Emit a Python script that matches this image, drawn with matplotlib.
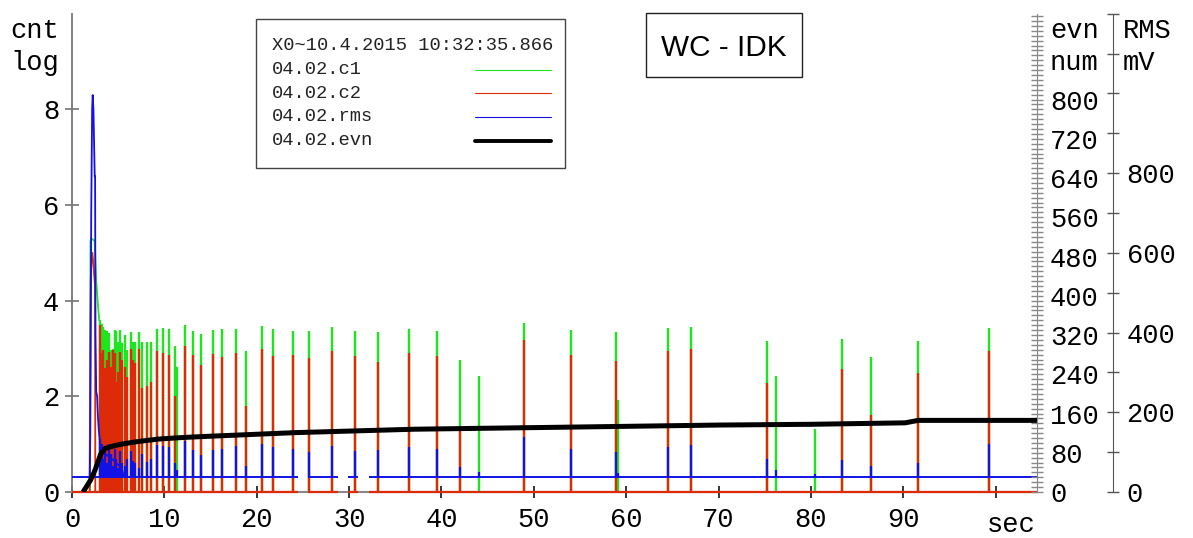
import matplotlib
matplotlib.use("Agg")
import matplotlib.pyplot as plt
from matplotlib.patches import Rectangle
from matplotlib.lines import Line2D
from matplotlib.ticker import FixedLocator, MultipleLocator

# ---- data -------------------------------------------------------------
legend_title = "X0~10.4.2015 10:32:35.866"
series_names = ["04.02.c1", "04.02.c2", "04.02.rms", "04.02.evn"]
chart_title = "WC - IDK"

# pulse times (sec) and heights per channel (c1/c2 in log cnt, rms in mV)
spike_t = [3.03, 3.20, 3.32, 3.54, 3.79, 4.00, 4.18, 4.44, 4.62, 4.80,
           4.98, 5.23, 5.45, 5.70, 5.95, 6.35, 6.60, 6.85, 7.25, 7.61,
           8.08, 8.52, 9.20, 9.85, 10.50, 11.18, 11.40, 12.20, 13.13, 13.96,
           15.23, 16.27, 17.78, 18.80, 20.60, 21.79, 23.95, 25.62, 28.10,
           30.66, 33.08, 36.50, 39.47, 41.99, 44.08, 48.92, 53.97, 58.84,
           59.06, 64.47, 66.96, 75.25, 76.23, 80.41, 83.33, 86.54, 91.59,
           99.32]
c1_peak = [3.59, 3.52, 3.45, 3.38, 3.37, 3.32, 2.97, 3.00, 3.38, 3.37,
           3.14, 3.38, 3.12, 3.28, 2.97, 3.34, 3.14, 3.14, 3.34, 3.14,
           3.13, 3.13, 3.40, 3.43, 3.41, 3.05, 2.61, 3.49, 3.36, 3.30,
           3.38, 3.40, 3.41, 2.95, 3.47, 3.41, 3.36, 3.36, 3.44,
           3.36, 3.35, 3.41, 3.36, 2.77, 2.42, 3.54, 3.38, 3.34,
           1.92, 3.42, 3.44, 3.15, 2.42, 1.32, 3.20, 2.82, 3.15,
           3.43]
c2_peak = [3.49, 2.90, 2.97, 2.60, 2.76, 2.93, 2.62, 2.97, 2.90, 2.30,
           2.50, 2.93, 2.76, 2.62, 2.40, 3.00, 2.76, 2.69, 3.00, 2.17,
           2.21, 2.31, 2.95, 2.90, 2.86, 2.01, 0.00, 3.05, 2.86, 2.65,
           2.89, 2.83, 2.91, 1.79, 2.99, 2.85, 2.86, 2.81, 2.95,
           2.84, 2.72, 2.91, 2.84, 1.30, 0.00, 3.17, 2.86, 2.74,
           0.00, 2.95, 2.99, 2.27, 0.00, 0.00, 2.58, 1.62, 2.49,
           2.95]
rms_peak = [132, 120, 84, 108, 72, 120, 96, 66, 108, 84,
            60, 102, 72, 66, 84, 102, 78, 72, 60, 96,
            76, 82, 118, 115, 112, 74, 56, 128, 106, 92,
            106, 108, 115, 66, 120, 112, 108, 100, 115,
            103, 106, 112, 109, 62, 49, 139, 108, 101,
            48, 114, 118, 82, 54, 46, 80, 65, 73,
            120]

# start-up burst
c1_burst_t = [1.95, 2.00, 2.10, 2.45, 2.52, 2.62, 2.74, 2.85, 2.95, 3.05, 3.05]
c1_burst = [0.0, 5.25, 5.30, 5.25, 4.90, 4.40, 4.10, 3.80, 3.60, 3.55, 0.0]
c2_burst_t = [1.90, 2.02, 2.12, 2.20, 2.30, 2.42, 2.50, 2.52]
c2_burst = [0.0, 4.40, 4.90, 5.00, 4.80, 4.50, 4.30, 0.0]
rms_burst_t = [1.92, 1.98, 2.08, 2.18, 2.24, 2.32, 2.40, 2.46, 2.50, 2.54,
               2.62, 2.72, 2.80, 2.90, 3.00, 3.15, 3.35, 3.60, 3.90, 4.30,
               4.80, 5.40, 5.60]
rms_burst = [38, 144, 696, 960, 996, 960, 864, 792, 792, 396,
             252, 240, 192, 156, 132, 108, 102, 96, 90, 84,
             72, 60, 38]
rms_base = 38

# recorded intervals (gaps in between)
seg_start = [0.0, 25.6, 29.9, 32.1]
seg_end = [24.5, 28.8, 31.0, 104.5]

# cumulative event count
evn_t = [1.2, 2.0, 2.5, 3.1, 3.6, 4.7, 5.8, 7.2, 9.4, 11.9, 14.1, 24.1,
         37.1, 52.9, 70.1, 80.0, 90.2, 91.6, 104.5]
evn = [0, 24, 45, 77, 89, 95, 99, 103, 108, 111, 113, 121,
       128, 132, 136.5, 138, 141, 146, 146]

x_ticks = [0, 10, 20, 30, 40, 50, 60, 70, 80, 90, 100]
x_labels = ["0", "10", "20", "30", "40", "50", "60", "70", "80", "90", ""]
cnt_ticks = [0, 2, 4, 6, 8]
evn_ticks = [0, 80, 160, 240, 320, 400, 480, 560, 640, 720, 800]
rms_ticks = [0, 100, 200, 300, 400, 500, 600, 700, 800, 900, 1000, 1100, 1200]
rms_labels = ["0", "", "200", "", "400", "", "600", "", "800", "", "", "", ""]

# ---- style ------------------------------------------------------------
GREEN = "#1ee61e"
RED = "#dd2a08"
BLUE = "#1212e6"
MONO = "Liberation Mono"
FS = 19.5

W, H = 1193, 538
plt.rcParams["font.family"] = [MONO, "DejaVu Sans Mono"]


def fx(px):
    return px / W


def fy(py):
    return 1 - py / H


fig = plt.figure(figsize=(W / 100, H / 100), dpi=100)
ax = fig.add_axes([fx(72), fy(492), fx(1037.3) - fx(72), fy(13.7) - fy(492)])
ax_rms = ax.twinx()
ax_evn = ax.twinx()

# channels c1 / c2
ax.plot(c1_burst_t, c1_burst, color=GREEN, lw=1.3)
ax.vlines(spike_t, 0, c1_peak, color=GREEN, lw=1.7)
ax.plot(c2_burst_t, c2_burst, color=RED, lw=1.3)
ax.vlines(spike_t, 0, c2_peak, color=RED, lw=1.7)
ax.hlines([0] * len(seg_start), seg_start, seg_end, color=RED, lw=1.6,
          zorder=3, clip_on=False)

# rms
ax_rms.hlines([rms_base] * len(seg_start), seg_start, seg_end, color=BLUE,
              lw=1.4)
ax_rms.plot(rms_burst_t, rms_burst, color=BLUE, lw=1.3)
ax_rms.vlines(spike_t, rms_base, rms_peak, color=BLUE, lw=1.6)

# events
ax_evn.plot(evn_t, evn, color="black", lw=3.6, solid_capstyle="butt")

# ---- axes -------------------------------------------------------------
ax.set_xlim(0, 104.5)
ax.set_ylim(0, 10)
ax_rms.set_ylim(0, 1200)
ax_evn.set_ylim(0, 975)

for a in (ax, ax_rms, ax_evn):
    a.spines["top"].set_visible(False)
for a in (ax_rms, ax_evn):
    a.spines["left"].set_visible(False)
    a.spines["bottom"].set_visible(False)
ax.spines["right"].set_visible(False)
ax.spines["left"].set_color("#777777")
ax.spines["left"].set_linewidth(1.3)
ax.spines["bottom"].set_color("#888888")
ax.spines["bottom"].set_linewidth(1.5)

ax.set_xticks(x_ticks)
ax.set_xticklabels(x_labels)
ax.set_yticks(cnt_ticks)
ax.tick_params(axis="x", direction="inout", length=9, width=1.1,
               color="black", labelsize=FS, pad=6)
ax.tick_params(axis="y", direction="inout", length=9.5, width=1.1,
               color="#666666", labelsize=FS, pad=4.5)

ax_evn.spines["right"].set_color("#888888")
ax_evn.yaxis.set_major_locator(FixedLocator(evn_ticks))
ax_evn.yaxis.set_minor_locator(MultipleLocator(10))
ax_evn.tick_params(axis="y", which="both", direction="inout", length=8.4,
                   width=1.0, color="#888888", labelsize=FS, pad=5)

ax_rms.spines["right"].set_position(("axes", (1113 - 72) / (1037.3 - 72)))
ax_rms.spines["right"].set_color("#555555")
ax_rms.yaxis.set_major_locator(FixedLocator(rms_ticks))
ax_rms.set_yticklabels(rms_labels)
ax_rms.tick_params(axis="y", direction="inout", length=8.6, width=1.0,
                   color="#555555", labelsize=FS, pad=5.5)

# axis captions
for x, y, s in [(10, 37.7, "cnt"), (10, 69.5, "log"),
                (1050, 37.7, "evn"), (1050, 70, "num"),
                (1123, 37.7, "RMS"), (1123, 70, "mV")]:
    fig.text(fx(x), fy(y), s, fontsize=FS, ha="left", va="baseline")
fig.text(fx(1011), fy(532), "sec", fontsize=FS, ha="center", va="baseline")

# ---- legend box ---------------------------------------------------------
fig.add_artist(Rectangle((fx(255.7), fy(168)), fx(565.3) - fx(255.7),
                         fy(19) - fy(168), transform=fig.transFigure,
                         facecolor="white", edgecolor="#444444", lw=1.0))
fig.text(fx(271.7), fy(50), legend_title, fontsize=13.5, ha="left",
         va="baseline", color="#222222")
leg_colors = [GREEN, RED, BLUE, "black"]
leg_widths = [0.8, 0.8, 0.8, 2.8]
for i, (name, col, lw) in enumerate(zip(series_names, leg_colors, leg_widths)):
    yb = 74 + 23.7 * i
    fig.text(fx(271.7), fy(yb), name, fontsize=13.5, ha="left",
             va="baseline", color="#222222")
    fig.add_artist(Line2D([fx(475), fx(551)], [fy(yb - 4.5), fy(yb - 4.5)],
                          transform=fig.transFigure, color=col, lw=lw,
                          solid_capstyle="round"))

# ---- title box ----------------------------------------------------------
fig.add_artist(Rectangle((fx(645.7), fy(77.3)), fx(801.7) - fx(645.7),
                         fy(13.3) - fy(77.3), transform=fig.transFigure,
                         facecolor="white", edgecolor="#222222", lw=1.0))
fig.text(fx(723.5), fy(55.7), chart_title, fontsize=21.4, ha="center",
         va="baseline", family="Liberation Sans")

fig.savefig("out.png", dpi=100)
